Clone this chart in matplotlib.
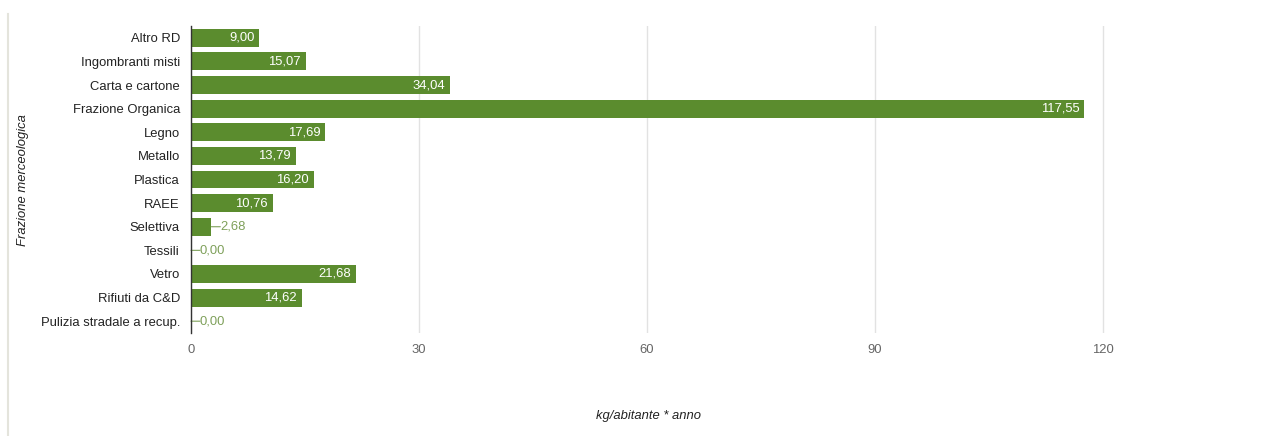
import numpy as np
import matplotlib.pyplot as plt
from matplotlib.lines import Line2D
from matplotlib.transforms import offset_copy

categories = ["Altro RD", "Ingombranti misti", "Carta e cartone", "Frazione Organica",
              "Legno", "Metallo", "Plastica", "RAEE", "Selettiva", "Tessili",
              "Vetro", "Rifiuti da C&D", "Pulizia stradale a recup."]
values = [9.00, 15.07, 34.04, 117.55, 17.69, 13.79, 16.20, 10.76, 2.68, 0.00,
          21.68, 14.62, 0.00]
xticks = [0, 30, 60, 90, 120]

plt.rcParams["font.family"] = ["Liberation Sans", "DejaVu Sans"]
plt.rcParams["font.size"] = 9.4

bar_color = "#5b8c2e"
out_color = "#7ea05a"

fig = plt.figure(figsize=(12.69, 4.36), dpi=100)
ax = fig.add_axes([191 / 1269, 1 - 333 / 436, 1064 / 1269, 307 / 436])

y = np.arange(len(categories))
ax.barh(y, values, height=0.76, color=bar_color, zorder=2)
ax.set_ylim(len(categories) - 0.5, -0.5)
ax.set_xlim(0, 140)

# value labels: inside the bar if it is long enough, else outside with a short dash
for yi, v in zip(y, values):
    txt = f"{v:.2f}".replace(".", ",")
    if v > 6:
        tr = offset_copy(ax.transData, fig=fig, x=-5, y=0, units="dots")
        ax.text(v, yi, txt, transform=tr, ha="right", va="center",
                color="#ffffff", zorder=3)
    else:
        ax.annotate("", xy=(v, yi), xycoords="data",
                    xytext=(9, 0), textcoords="offset pixels",
                    arrowprops=dict(arrowstyle="-", color=out_color, lw=0.8,
                                    shrinkA=0, shrinkB=0))
        tr1 = offset_copy(ax.transData, fig=fig, x=9, y=0, units="dots")
        ax.text(v, yi, txt, transform=tr1, ha="left", va="center",
                color=out_color, zorder=3)

ax.set_yticks(y)
ax.set_yticklabels(categories, color="#222222")
ax.set_xticks(xticks)
ax.set_xticklabels([str(t) for t in xticks], color="#666666")
ax.tick_params(axis="y", length=0, pad=8)
ax.tick_params(axis="x", length=0, pad=8)

ax.grid(axis="x", color="#e2e2e2", lw=1, zorder=0)
for s in ["top", "right", "bottom"]:
    ax.spines[s].set_visible(False)
ax.spines["left"].set_color("#333333")
ax.spines["left"].set_linewidth(1)
ax.spines["left"].set_zorder(4)

fig.text(648 / 1269, 1 - 416 / 436, "kg/abitante * anno", ha="center", va="center",
         style="italic", color="#222222")
fig.text(23 / 1269, 1 - 180 / 436, "Frazione merceologica", ha="center", va="center",
         rotation=90, style="italic", color="#222222")

# light border at the left edge
fig.add_artist(Line2D([8 / 1269, 8 / 1269], [0, 1 - 14 / 436],
                      transform=fig.transFigure, color="#e4e4dc", lw=1.5))

fig.savefig("out.png", dpi=100)
